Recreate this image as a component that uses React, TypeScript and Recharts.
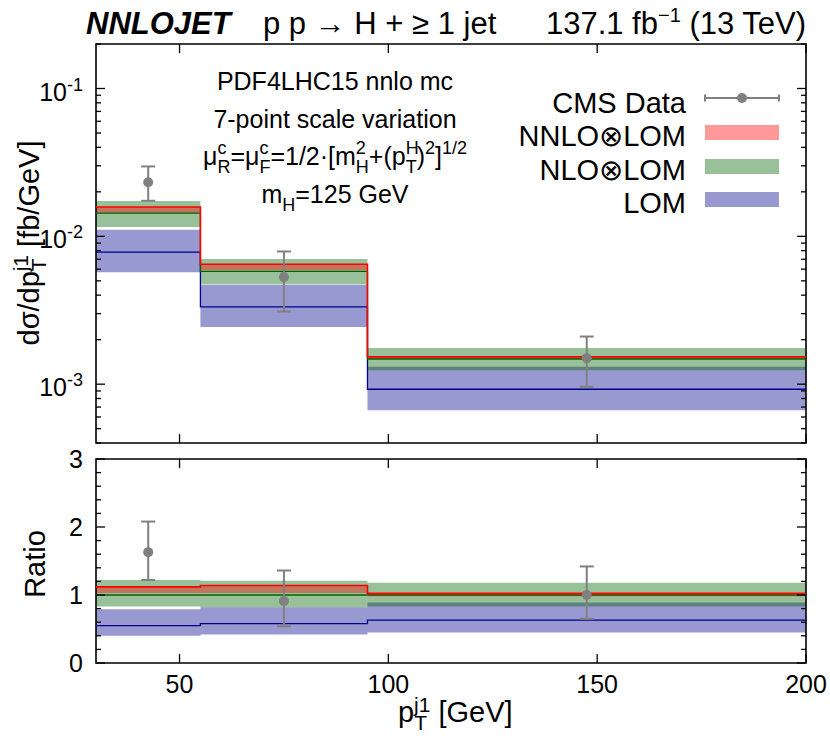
import React from "react";
import { ComposedChart, Area, Line, Scatter, ErrorBar, XAxis, YAxis, ReferenceArea } from "recharts";

const FONT = "'Liberation Sans', Arial, Helvetica, sans-serif";

// pT bin edges [GeV]
const binEdges = [30, 55, 95, 200];
const xTicks = [50, 100, 150, 200];

// dsigma/dpT [fb/GeV], one value per bin
const nnloLow = [0.01436, 0.00589, 0.00148];
const nnloHigh = [0.01578, 0.00647, 0.00155];
const nnloCentral = [0.01578, 0.00647, 0.00153];
const nloLow = [0.01156, 0.00474, 0.00124];
const nloHigh = [0.01734, 0.00703, 0.00176];
const nloCentral = [0.01436, 0.0058, 0.00148];
const lomLow = [0.00571, 0.00244, 0.000667];
const lomHigh = [0.0111, 0.0047, 0.00131];
const lomCentral = [0.00783, 0.00333, 0.000924];

// CMS data points
const cmsX = [42.5, 75, 147.5];
const cmsVal = [0.0232, 0.0053, 0.0015];
const cmsLow = [0.0174, 0.0031, 0.00096];
const cmsHigh = [0.0297, 0.0079, 0.0021];

// ratio panel (to NLO central)
const nnloRatioLow = [1.03, 1.03, 0.98];
const nnloRatioHigh = [1.125, 1.14, 1.04];
const nnloRatioCentral = [1.12, 1.14, 1.02];
const nloRatioLow = [0.83, 0.82, 0.83];
const nloRatioHigh = [1.22, 1.21, 1.18];
const nloRatioCentral = [1.0, 1.0, 1.0];
const lomRatioLow = [0.4, 0.42, 0.45];
const lomRatioHigh = [0.79, 0.82, 0.89];
const lomRatioCentral = [0.55, 0.58, 0.63];
const cmsRatioVal = [1.63, 0.91, 1.0];
const cmsRatioLow = [1.22, 0.54, 0.65];
const cmsRatioHigh = [2.08, 1.36, 1.42];

const topMajor = [0.001, 0.01, 0.1];
const topMinor = [
  0.0004, 0.0005, 0.0006, 0.0007, 0.0008, 0.0009,
  0.002, 0.003, 0.004, 0.005, 0.006, 0.007, 0.008, 0.009,
  0.02, 0.03, 0.04, 0.05, 0.06, 0.07, 0.08, 0.09, 0.2,
];
const ratioMajor = [0, 1, 2, 3];
const ratioMinor = [0.2, 0.4, 0.6, 0.8, 1.2, 1.4, 1.6, 1.8, 2.2, 2.4, 2.6, 2.8];

const PLOT_W = 710;
const TOP_H = 399;
const RATIO_H = 204;

const RED = "#ff0000";
const GREEN = "#006400";
const BLUE = "#00008b";
const GRAY = "#808080";

// build step rows (last edge repeats last bin)
const stepRows = (lo: number[][], hi: number[][], mid: number[][]) =>
  binEdges.map((x, i) => {
    const b = Math.min(i, lo[0].length - 1);
    return {
      x,
      lom: [lo[0][b], hi[0][b]],
      nlo: [lo[1][b], hi[1][b]],
      nnlo: [lo[2][b], hi[2][b]],
      lomC: mid[0][b],
      nloC: mid[1][b],
      nnloC: mid[2][b],
    };
  });

const topRows = stepRows(
  [lomLow, nloLow, nnloLow],
  [lomHigh, nloHigh, nnloHigh],
  [lomCentral, nloCentral, nnloCentral]
);
const ratioRows = stepRows(
  [lomRatioLow, nloRatioLow, nnloRatioLow],
  [lomRatioHigh, nloRatioHigh, nnloRatioHigh],
  [lomRatioCentral, nloRatioCentral, nnloRatioCentral]
);

const pointRows = (val: number[], lo: number[], hi: number[]) =>
  cmsX.map((x, i) => ({ x, y: val[i], err: [val[i] - lo[i], hi[i] - val[i]] }));

const cmsTop = pointRows(cmsVal, cmsLow, cmsHigh);
const cmsRatio = pointRows(cmsRatioVal, cmsRatioLow, cmsRatioHigh);

const LogTick = (props: any) => {
  const { x, y, payload } = props;
  const v = payload.value;
  const major = topMajor.includes(v);
  const len = major ? 9 : 5;
  const exp = Math.round(Math.log10(v));
  return (
    <g>
      <line x1={x} x2={x + len} y1={y} y2={y} stroke="#000" strokeWidth={1.3} />
      <line x1={x + PLOT_W} x2={x + PLOT_W - len} y1={y} y2={y} stroke="#000" strokeWidth={1.3} />
      {major && (
        <text x={x - 13} y={y + 12} textAnchor="end" fontSize={25} fontFamily={FONT} fill="#000">
          10<tspan dy={-10} fontSize={18}>{exp}</tspan>
        </text>
      )}
    </g>
  );
};

const RatioTick = (props: any) => {
  const { x, y, payload } = props;
  const v = payload.value;
  const major = ratioMajor.includes(v);
  const len = major ? 9 : 5;
  return (
    <g>
      <line x1={x} x2={x + len} y1={y} y2={y} stroke="#000" strokeWidth={1.3} />
      <line x1={x + PLOT_W} x2={x + PLOT_W - len} y1={y} y2={y} stroke="#000" strokeWidth={1.3} />
      {major && (
        <text x={x - 13} y={y + 9} textAnchor="end" fontSize={25} fontFamily={FONT} fill="#000">
          {v}
        </text>
      )}
    </g>
  );
};

const makeXTick = (plotH: number, labels: boolean) => (props: any) => {
  const { x, y, payload } = props;
  return (
    <g>
      <line x1={x} x2={x} y1={y} y2={y - 9} stroke="#000" strokeWidth={1.3} />
      <line x1={x} x2={x} y1={y - plotH} y2={y - plotH + 9} stroke="#000" strokeWidth={1.3} />
      {labels && (
        <text x={x} y={y + 30} textAnchor="middle" fontSize={25} fontFamily={FONT} fill="#000">
          {payload.value}
        </text>
      )}
    </g>
  );
};

const dataDot = (p: any) => <circle cx={p.cx} cy={p.cy} r={5} fill={GRAY} />;

function series() {
  return [
    <Area key="lom" type="stepAfter" dataKey="lom" stroke="none" fill={BLUE} fillOpacity={0.4} dot={false} activeDot={false} isAnimationActive={false} />,
    <Area key="nlo" type="stepAfter" dataKey="nlo" stroke="none" fill={GREEN} fillOpacity={0.4} dot={false} activeDot={false} isAnimationActive={false} />,
    <Area key="nnlo" type="stepAfter" dataKey="nnlo" stroke="none" fill={RED} fillOpacity={0.4} dot={false} activeDot={false} isAnimationActive={false} />,
    <Line key="lomC" type="stepAfter" dataKey="lomC" stroke={BLUE} strokeWidth={1.3} dot={false} activeDot={false} isAnimationActive={false} />,
    <Line key="nloC" type="stepAfter" dataKey="nloC" stroke={GREEN} strokeWidth={1.3} dot={false} activeDot={false} isAnimationActive={false} />,
    <Line key="nnloC" type="stepAfter" dataKey="nnloC" stroke={RED} strokeWidth={1.6} dot={false} activeDot={false} isAnimationActive={false} />,
  ];
}

export default function App() {
  return (
    <div style={{ position: "absolute", left: 0, top: 0, width: 830, height: 738, background: "#fff" }}>
      <div style={{ position: "absolute", left: 0, top: 0 }}>
        <ComposedChart width={830} height={455} data={topRows} margin={{ top: 44, right: 24, bottom: 11, left: 95 }}>
          <XAxis type="number" dataKey="x" domain={[30, 200]} ticks={xTicks} allowDataOverflow height={1}
            axisLine={false} tickLine={false} tickSize={0} tickMargin={0} interval={0} tick={makeXTick(TOP_H, false)} />
          <YAxis scale="log" domain={[0.0004, 0.2]} allowDataOverflow ticks={[...topMajor, ...topMinor]} width={1}
            axisLine={false} tickLine={false} tickSize={0} tickMargin={0} interval={0} tick={<LogTick />} />
          {series()}
          <Scatter data={cmsTop} dataKey="y" shape={dataDot} isAnimationActive={false}>
            <ErrorBar dataKey="err" direction="y" width={7} stroke={GRAY} strokeWidth={2} />
          </Scatter>
          <ReferenceArea x1={30} x2={200} y1={0.0004} y2={0.2} fill="none" fillOpacity={0} stroke="#000" strokeWidth={1.6} ifOverflow="visible" />
        </ComposedChart>
      </div>
      <div style={{ position: "absolute", left: 0, top: 430 }}>
        <ComposedChart width={830} height={308} data={ratioRows} margin={{ top: 29, right: 24, bottom: 74, left: 95 }}>
          <XAxis type="number" dataKey="x" domain={[30, 200]} ticks={xTicks} allowDataOverflow height={1}
            axisLine={false} tickLine={false} tickSize={0} tickMargin={0} interval={0} tick={makeXTick(RATIO_H, true)} />
          <YAxis type="number" domain={[0, 3]} allowDataOverflow ticks={[...ratioMajor, ...ratioMinor]} width={1}
            axisLine={false} tickLine={false} tickSize={0} tickMargin={0} interval={0} tick={<RatioTick />} />
          {series()}
          <Scatter data={cmsRatio} dataKey="y" shape={dataDot} isAnimationActive={false}>
            <ErrorBar dataKey="err" direction="y" width={7} stroke={GRAY} strokeWidth={2} />
          </Scatter>
          <ReferenceArea x1={30} x2={200} y1={0} y2={3} fill="none" fillOpacity={0} stroke="#000" strokeWidth={1.6} ifOverflow="visible" />
        </ComposedChart>
      </div>
      <svg width={830} height={738} style={{ position: "absolute", left: 0, top: 0, pointerEvents: "none" }} fontFamily={FONT}>
        {/* title */}
        <text x={86} y={34} fontSize={31} fontWeight="bold" fontStyle="italic">NNLOJET</text>
        <text x={263} y={34} fontSize={31}>p p → H + ≥ 1 jet</text>
        <text x={806} y={34} fontSize={31} textAnchor="end">
          137.1 fb<tspan dy={-12} fontSize={20}>−1</tspan><tspan dy={12}> (13 TeV)</tspan>
        </text>

        {/* annotations */}
        <text x={335} y={90} fontSize={25} textAnchor="middle">PDF4LHC15 nnlo mc</text>
        <text x={335} y={128} fontSize={25} textAnchor="middle">7-point scale variation</text>
        <text x={335} y={165} fontSize={25} textAnchor="middle">
          μ<tspan dy={-11} fontSize={18}>c</tspan><tspan dx={-9} dy={19} fontSize={18}>R</tspan>
          <tspan dy={-8}>=μ</tspan><tspan dy={-11} fontSize={18}>c</tspan><tspan dx={-9} dy={19} fontSize={18}>F</tspan>
          <tspan dy={-8}>=1/2·[m</tspan><tspan dy={-11} fontSize={18}>2</tspan><tspan dx={-10} dy={19} fontSize={18}>H</tspan>
          <tspan dy={-8}>+(p</tspan><tspan dy={-11} fontSize={18}>H</tspan><tspan dx={-13} dy={19} fontSize={18}>T</tspan>
          <tspan dy={-8}>)</tspan><tspan dy={-11} fontSize={18}>2</tspan>
          <tspan dy={11}>]</tspan><tspan dy={-11} fontSize={18}>1/2</tspan>
        </text>
        <text x={335} y={203} fontSize={25} textAnchor="middle">
          m<tspan dy={8} fontSize={18}>H</tspan><tspan dy={-8}>=125 GeV</tspan>
        </text>

        {/* legend */}
        <text x={686} y={113} fontSize={29} textAnchor="end">CMS Data</text>
        <text x={686} y={146} fontSize={29} textAnchor="end">NNLO⊗LOM</text>
        <text x={686} y={180} fontSize={29} textAnchor="end">NLO⊗LOM</text>
        <text x={686} y={213} fontSize={29} textAnchor="end">LOM</text>
        <line x1={705} x2={779} y1={98} y2={98} stroke={GRAY} strokeWidth={2} />
        <line x1={705} x2={705} y1={94.5} y2={101.5} stroke={GRAY} strokeWidth={2} />
        <line x1={779} x2={779} y1={94.5} y2={101.5} stroke={GRAY} strokeWidth={2} />
        <circle cx={742} cy={98} r={5} fill={GRAY} />
        <rect x={705} y={125} width={74} height={15} fill={RED} fillOpacity={0.4} />
        <rect x={705} y={159} width={74} height={15} fill={GREEN} fillOpacity={0.4} />
        <rect x={705} y={192} width={74} height={15} fill={BLUE} fillOpacity={0.4} />

        {/* axis labels */}
        <text transform="rotate(-90 39 243)" x={39} y={243} fontSize={29} textAnchor="middle">
          dσ/dp<tspan dy={7} fontSize={21}>T</tspan><tspan dx={-13} dy={-18} fontSize={21}>j1</tspan>
          <tspan dy={11}> [fb/GeV]</tspan>
        </text>
        <text transform="rotate(-90 45 564)" x={45} y={564} fontSize={29} textAnchor="middle">Ratio</text>
        <text x={398} y={722} fontSize={29}>
          p<tspan dy={8} fontSize={21}>T</tspan><tspan dx={-13} dy={-18} fontSize={21}>j1</tspan>
          <tspan dy={10}> [GeV]</tspan>
        </text>
      </svg>
    </div>
  );
}
